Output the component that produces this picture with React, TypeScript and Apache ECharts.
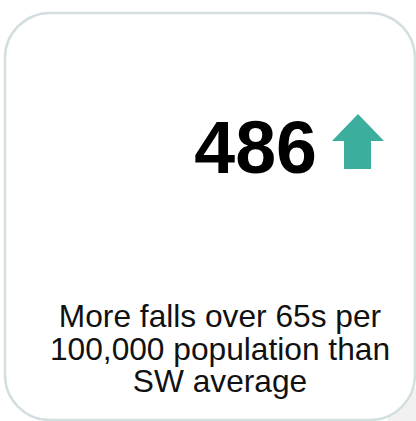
import React, { useEffect, useRef } from "react";
import * as echarts from "echarts";

const kpiValue: number[] = [486];
const kpiDirection: string[] = ["up"];
const labelLines: string[] = [
  "More falls over 65s per",
  "100,000 population than",
  "SW average",
];

const FONT = "'Liberation Sans', Arial, Helvetica, sans-serif";

export default function App() {
  const ref = useRef<HTMLDivElement>(null);
  useEffect(() => {
    document.body.style.margin = "0";
    const chart = echarts.init(ref.current!, null, { renderer: "svg" });
    const arrowPts =
      kpiDirection[0] === "up"
        ? [
            [358, 114],
            [384, 141],
            [371, 141],
            [371, 169],
            [344, 169],
            [344, 141],
            [332, 141],
          ]
        : [
            [358, 169],
            [384, 142],
            [371, 142],
            [371, 114],
            [344, 114],
            [344, 142],
            [332, 142],
          ];
    const baselines = [327, 359.5, 392];
    const bodySize = 31.7;
    const numSize = 73.5;
    chart.setOption({
      animation: false,
      backgroundColor: "#ffffff",
      graphic: [
        {
          type: "rect",
          shape: { x: 388, y: 388, width: 30, height: 35 },
          style: { fill: "#f1f1f1" },
          z: 0,
        },
        {
          type: "rect",
          shape: { x: 5, y: 13, width: 410, height: 407, r: 45 },
          style: { fill: "#ffffff", stroke: "#d3dee0", lineWidth: 2.5 },
          z: 1,
        },
        {
          type: "text",
          z: 2,
          style: {
            x: 317,
            y: 173 - 0.3465 * numSize,
            text: String(kpiValue[0]),
            font: `bold ${numSize}px ${FONT}`,
            fill: "#000000",
            align: "right",
            verticalAlign: "middle",
          },
        },
        {
          type: "polygon",
          z: 2,
          shape: { points: arrowPts },
          style: { fill: "#3bae9d" },
        },
        ...labelLines.map((line, i) => ({
          type: "text",
          z: 2,
          style: {
            x: 220,
            y: baselines[i] - 0.3465 * bodySize,
            text: line,
            font: `${bodySize}px ${FONT}`,
            fill: "#111111",
            align: "center",
            verticalAlign: "middle",
          },
        })),
      ],
    });
    return () => chart.dispose();
  }, []);
  return (
    <div
      ref={ref}
      style={{ position: "fixed", left: 0, top: 0, width: 416, height: 421 }}
    />
  );
}
